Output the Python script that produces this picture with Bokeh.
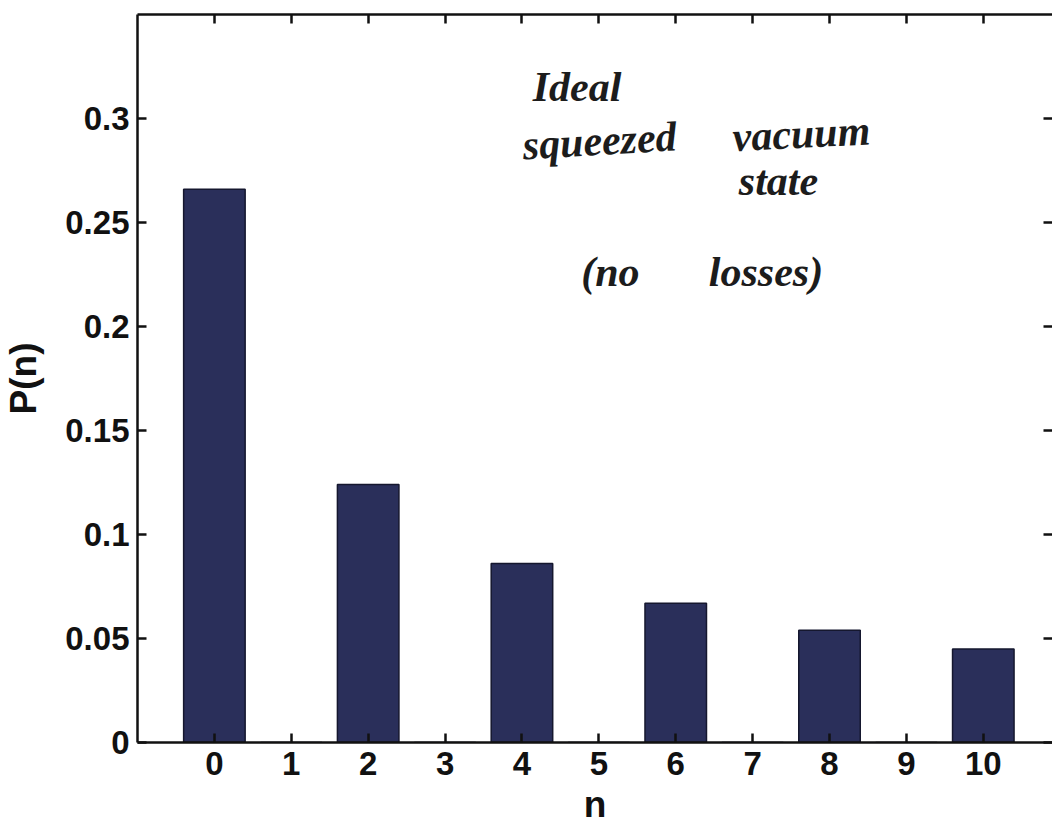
from bokeh.plotting import figure
from bokeh.models import ColumnDataSource, LinearAxis, FixedTicker, Label, Range1d
from bokeh.embed import file_html
from bokeh.resources import INLINE

# ---- data ----
n_values = [0, 1, 2, 3, 4, 5, 6, 7, 8, 9, 10]
p_values = [0.266, 0.0, 0.124, 0.0, 0.086, 0.0, 0.067, 0.0, 0.054, 0.0, 0.045]
x_ticks = [0, 1, 2, 3, 4, 5, 6, 7, 8, 9, 10]
y_ticks = [0, 0.05, 0.1, 0.15, 0.2, 0.25, 0.3]
y_tick_labels = {0: "0", 0.05: "0.05", 0.1: "0.1", 0.15: "0.15", 0.2: "0.2", 0.25: "0.25", 0.3: "0.3"}
x_label = "n"
y_label = "P(n)"
notes = ["Ideal", "squeezed", "vacuum", "state", "(no", "losses)"]

FONT = "Liberation Sans"
HAND = "Liberation Serif"
INK = "#111111"

src = ColumnDataSource(dict(n=n_values, p=p_values))

p = figure(width=1052, height=827, output_backend="svg", toolbar_location=None,
           x_range=Range1d(-1, 10.9), y_range=Range1d(0, 0.35),
           min_border_left=136, min_border_right=0, min_border_top=14, min_border_bottom=85,
           x_axis_label=x_label, y_axis_label=y_label)

p.background_fill_color = "white"
p.border_fill_color = "white"
p.grid.visible = False
p.outline_line_color = None

p.vbar(x="n", top="p", width=0.8, source=src,
       fill_color="#2a2f5a", line_color="#15172e", line_width=1.5)

def style_axis(ax, ticks, show_labels=True, show_line=True):
    ax.ticker = FixedTicker(ticks=ticks)
    ax.minor_tick_line_color = None
    ax.major_tick_in = 9
    ax.major_tick_out = 0
    ax.major_tick_line_width = 2.5
    ax.major_tick_line_color = INK
    ax.axis_line_color = INK if show_line else None
    ax.axis_line_width = 2.5
    ax.major_label_text_font = FONT
    ax.major_label_text_font_style = "bold"
    ax.major_label_text_color = INK
    ax.major_label_text_font_size = "33px"
    if not show_labels:
        ax.major_label_text_font_size = "0px"
        ax.major_label_text_color = None
        ax.major_label_standoff = 0

xa = p.xaxis[0]
style_axis(xa, x_ticks)
xa.major_label_standoff = 9
xa.axis_label_text_font = FONT
xa.axis_label_text_font_style = "bold"
xa.axis_label_text_font_size = "37px"
xa.axis_label_text_color = INK
xa.axis_label_standoff = 6

ya = p.yaxis[0]
style_axis(ya, y_ticks)
ya.major_label_overrides = y_tick_labels
ya.major_label_standoff = 8
ya.axis_label_text_font = FONT
ya.axis_label_text_font_style = "bold"
ya.axis_label_text_font_size = "37px"
ya.axis_label_text_color = INK
ya.axis_label_standoff = 18

top_ax = LinearAxis()
style_axis(top_ax, x_ticks, show_labels=False, show_line=True)
p.add_layout(top_ax, "above")

right_ax = LinearAxis()
style_axis(right_ax, y_ticks, show_labels=False, show_line=False)
p.add_layout(right_ax, "right")

# handwritten annotation (word placement in data coordinates)
spots = [(4.14, 0.315, 0), (4.01, 0.287, 0.06), (6.74, 0.291, 0.05),
         (6.82, 0.270, 0), (4.77, 0.226, 0), (6.43, 0.226, 0)]
for word, (x, y, ang) in zip(notes, spots):
    p.add_layout(Label(x=x, y=y, text=word, text_font=HAND, text_font_style="bold italic",
                       text_font_size="42px", text_color="#1c1c1c",
                       text_baseline="alphabetic", text_align="left", angle=ang))

open("out.html", "w").write(file_html(p, INLINE))
